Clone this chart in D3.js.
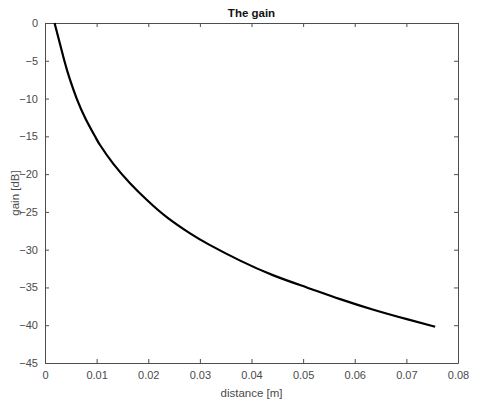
<!DOCTYPE html>
<html>
<head>
<meta charset="utf-8">
<script src="https://cdn.jsdelivr.net/npm/d3@7"></script>
<style>
  html, body { margin: 0; padding: 0; background: #fff; }
  text { font-family: "Liberation Sans", Arial, sans-serif; }
</style>
</head>
<body>
<svg id="chart" width="480" height="406"></svg>
<script>
// values
var distance = [0.00185, 0.00375, 0.00484, 0.00614, 0.00788, 0.00969, 0.01066, 0.01324, 0.01647, 0.0197,
                0.02358, 0.0281, 0.0317, 0.0378, 0.04425, 0.05071, 0.05717, 0.06362, 0.07009, 0.07558];
var gain = [0, -5, -7.5, -10, -12.7, -15, -16.15, -18.65, -21.2, -23.4,
            -25.7, -27.85, -29.3, -31.45, -33.4, -35.0, -36.55, -37.95, -39.2, -40.2];
var xTicks = [0, 0.01, 0.02, 0.03, 0.04, 0.05, 0.06, 0.07, 0.08];
var yTicks = [0, -5, -10, -15, -20, -25, -30, -35, -40, -45];

var svg = d3.select('#chart');
var plotLeft = 45, plotRight = 458, plotTop = 23, plotBottom = 363;
var axisColor = '#4d4d4d';

var x = d3.scaleLinear().domain([0, 0.08]).range([plotLeft, plotRight]);
var y = d3.scaleLinear().domain([-45, 0]).range([plotBottom, plotTop]);

// bottom axis, ticks inward
var gx = svg.append('g').attr('transform', 'translate(0,' + plotBottom + ')')
    .call(d3.axisBottom(x).tickValues(xTicks).tickSizeInner(-4).tickSizeOuter(0).tickPadding(8)
        .tickFormat(function (d) { return d === 0 ? '0' : d3.format('.2f')(d); }));
// left axis
var gy = svg.append('g').attr('transform', 'translate(' + plotLeft + ',0)')
    .call(d3.axisLeft(y).tickValues(yTicks).tickSizeInner(-4).tickSizeOuter(0).tickPadding(7));
// top and right (box on)
var gt = svg.append('g').attr('transform', 'translate(0,' + plotTop + ')')
    .call(d3.axisTop(x).tickValues(xTicks).tickSizeInner(-4).tickSizeOuter(0).tickFormat(''));
var gr = svg.append('g').attr('transform', 'translate(' + plotRight + ',0)')
    .call(d3.axisRight(y).tickValues(yTicks).tickSizeInner(-4).tickSizeOuter(0).tickFormat(''));

[gx, gy, gt, gr].forEach(function (g) {
    g.selectAll('path, line').attr('stroke', axisColor);
    g.selectAll('text').attr('fill', '#4a4a4a').style('font-size', '11px')
        .style('font-family', '"Liberation Sans", Arial, sans-serif');
});

// the curve
var line = d3.line()
    .x(function (d, i) { return x(distance[i]); })
    .y(function (d) { return y(d); })
    .curve(d3.curveNatural);

svg.append('path')
    .datum(gain)
    .attr('fill', 'none')
    .attr('stroke', '#000')
    .attr('stroke-width', 2.2)
    .attr('d', line);

// title & labels
svg.append('text')
    .attr('x', (plotLeft + plotRight) / 2).attr('y', 17)
    .attr('text-anchor', 'middle')
    .style('font-size', '11.5px').style('font-weight', 'bold').attr('fill', '#111')
    .text('The gain');

svg.append('text')
    .attr('x', (plotLeft + plotRight) / 2).attr('y', 397)
    .attr('text-anchor', 'middle')
    .style('font-size', '11.5px').attr('fill', '#4a4a4a')
    .text('distance [m]');

svg.append('text')
    .attr('transform', 'translate(19,' + (plotTop + plotBottom) / 2 + ') rotate(-90)')
    .attr('text-anchor', 'middle')
    .style('font-size', '11.5px').attr('fill', '#4a4a4a')
    .text('gain [dB]');
</script>
</body>
</html>
